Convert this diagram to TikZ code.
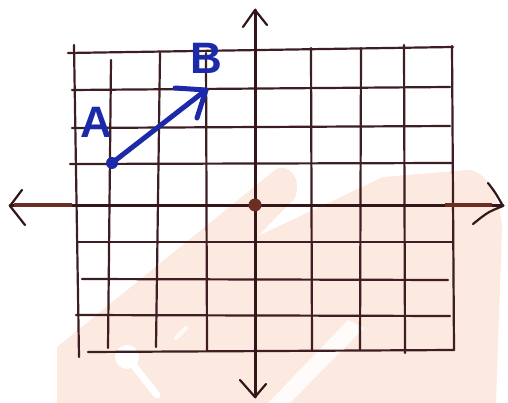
\documentclass[tikz,border=0pt]{standalone}
\usepackage{fontspec}
\setsansfont{Liberation Sans}
\definecolor{gridc}{RGB}{62,30,34}
\definecolor{axisc}{RGB}{52,22,26}
\definecolor{dotc}{RGB}{110,45,35}
\definecolor{bluec}{RGB}{28,42,170}
\definecolor{wm}{RGB}{252,233,223}
\begin{document}
\begin{tikzpicture}[x=1pt,y=-1pt,
  gridline/.style={draw=gridc,line width=2.2pt,line cap=round},
  axisline/.style={draw=axisc,line width=3pt,line cap=round},
  tipline/.style={draw=axisc,line width=2.2pt,line cap=round,line join=round},
  vecline/.style={draw=bluec,line width=5pt,line cap=round,line join=round},
  lbl/.style={text=bluec,font=\sffamily\bfseries\fontsize{44}{44}\selectfont,inner sep=0pt}]
\useasboundingbox (0,0) rectangle (508,403);
% watermark
\fill[wm] (57,347) -- (275,170) .. controls (285,162) and (303,175) .. (295,198) -- (258,236) -- (383,177) -- (467,170) .. controls (488,170) and (500,200) .. (502,228) -- (496,403) -- (57,403) -- cycle;
\fill[white,opacity=0.85] (268,403) -- (348,320) -- (364,328) -- (290,403) -- cycle;
\fill[white] (127,357) circle (12);
\draw[white,line width=7pt,line cap=round] (127,357) -- (157,395);
\draw[white,line width=4pt,line cap=round,opacity=0.8] (176,338) -- (186,328);
% grid horizontal
\draw[gridline] (68,53) -- (453,47);
\draw[gridline] (72,90) -- (450,87);
\draw[gridline] (72,128) -- (450,126);
\draw[gridline] (70,164) -- (452,163);
\draw[gridline] (77,242) -- (452,242);
\draw[gridline] (82,279) -- (448,280);
\draw[gridline] (76,315) -- (450,316);
\draw[gridline] (88,352) -- (454,350);
% grid vertical
\draw[gridline] (74,45) -- (79,357);
\draw[gridline] (111,60) -- (108,348);
\draw[gridline] (160,53) -- (156,347);
\draw[gridline] (206,53) -- (207,351);
\draw[gridline] (311,48) -- (312,351);
\draw[gridline] (361,48) -- (360,350);
\draw[gridline] (404,45) -- (405,353);
\draw[gridline] (452,46) -- (454,350);
% axes
\coordinate (ytop) at (255,10);
\coordinate (ybot) at (255,397);
\coordinate (xleft) at (10,206);
\coordinate (xright) at (503,206);
\draw[axisline] (ybot) -- (ytop);
\draw[axisline] (xleft) -- (xright);
\draw[dotc,line width=4pt] (445,205) -- (492,205);
\draw[dotc,line width=3.6pt] (14,205) -- (72,205);
\draw[tipline] (243,27) -- (ytop) -- (267,25);
\draw[tipline] (240,380) -- (ybot) -- (266,384);
\draw[tipline] (22,190) -- (xleft) -- (25,225);
\draw[tipline] (488,183) .. controls (495,192) .. (xright) .. controls (488,212) .. (473,224);
% origin
\node[circle,fill=dotc,minimum size=13pt,inner sep=0pt] (O) at (255,205) {};
% vector AB
\node[circle,fill=bluec,minimum size=12pt,inner sep=0pt] (Apt) at (112,163) {};
\coordinate (Bpt) at (206,90);
\draw[vecline] (Apt.center) -- (Bpt);
\draw[vecline] (175,88) -- (Bpt) -- (197,118);
\node[lbl] (lblA) at (96,122) {A};
\node[lbl] (lblB) at (206,58) {B};
\end{tikzpicture}
\end{document}
